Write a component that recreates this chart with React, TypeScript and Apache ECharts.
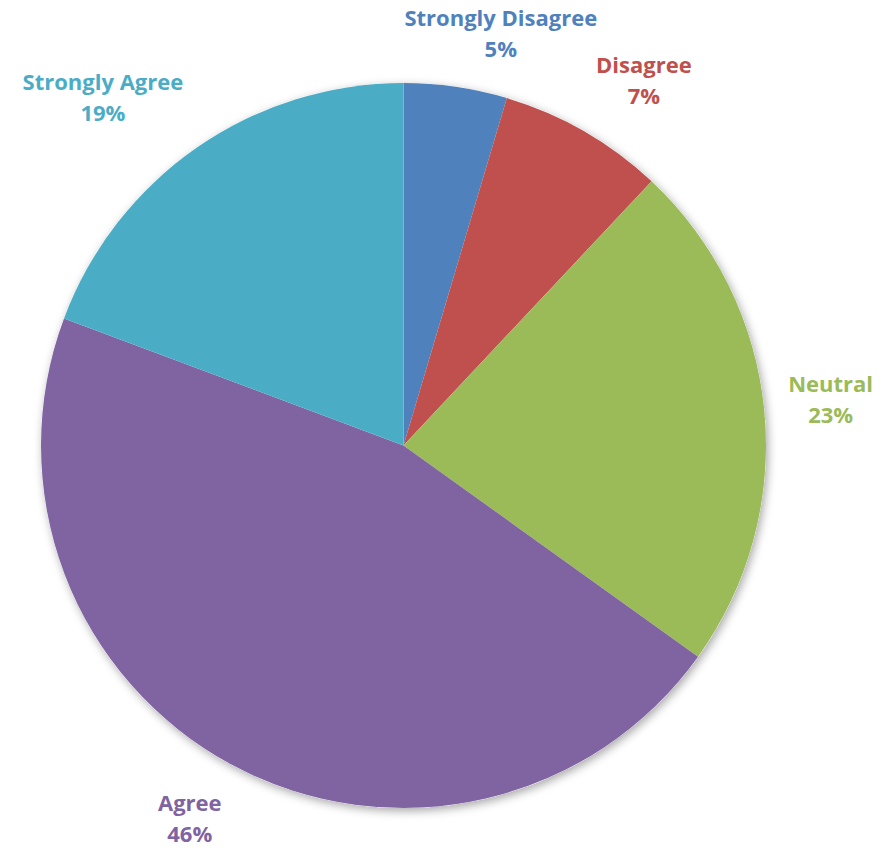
import React, { useEffect, useRef } from "react";
import * as echarts from "echarts";

const categories = ["Strongly Disagree", "Disagree", "Neutral", "Agree", "Strongly Agree"];
const values = [4.6, 7.4, 22.9, 45.8, 19.3];
const colors = ["#4F81BD", "#C0504D", "#9BBB59", "#8064A2", "#4BACC6"];

const CX = 403.5;
const CY = 445.5;
const R = 362.5;
const LABEL_DIST = R + 24;

export default function App() {
  const ref = useRef<HTMLDivElement>(null);
  useEffect(() => {
    if (!ref.current) return;
    const chart = echarts.init(ref.current, undefined, { renderer: "svg" });
    const total = values.reduce((a, b) => a + b, 0);
    const clamp = (v: number) => Math.max(-1, Math.min(1, v));
    chart.setOption({
      animation: false,
      backgroundColor: "#ffffff",
      series: [
        {
          type: "pie",
          z: 1,
          silent: true,
          center: [CX, CY],
          radius: R,
          label: { show: false },
          labelLine: { show: false },
          itemStyle: {
            color: "#ffffff",
            shadowBlur: 10,
            shadowColor: "rgba(0,0,0,0.35)",
            shadowOffsetX: 2,
            shadowOffsetY: 3,
          },
          data: [{ value: total, name: "" }],
        },
        {
          type: "pie",
          z: 2,
          center: [CX, CY],
          radius: R,
          startAngle: 90,
          clockwise: true,
          percentPrecision: 0,
          itemStyle: { borderWidth: 0 },
          labelLine: { show: false },
          label: {
            show: true,
            position: "outside",
            formatter: "{b}\n{d}%",
            fontFamily: "Open Sans",
            fontWeight: "bold",
            fontSize: 22,
            lineHeight: 31,
            align: "center",
            overflow: "none",
            edgeDistance: 0,
          },
          labelLayout: (params: any) => {
            const i = params.dataIndex;
            let before = 0;
            for (let j = 0; j < i; j++) before += values[j];
            const mid = ((before + values[i] / 2) / total) * Math.PI * 2;
            const s = Math.sin(mid);
            const c = Math.cos(mid);
            const w = params.labelRect.width;
            const h = params.labelRect.height;
            const k = 3;
            const ax = -clamp(k * s);
            const ay = clamp(k * c);
            const px = CX + LABEL_DIST * s;
            const py = CY - LABEL_DIST * c;
            return {
              x: px - (ax * w) / 2,
              y: py - (ay * h) / 2,
              align: "center",
              verticalAlign: "middle",
            };
          },
          data: categories.map((name, i) => ({
            name,
            value: values[i],
            itemStyle: { color: colors[i] },
            label: { color: colors[i] },
          })),
        },
      ],
    });
    return () => chart.dispose();
  }, []);
  return (
    <div
      ref={ref}
      style={{ position: "fixed", left: 0, top: 0, width: 882, height: 852 }}
    />
  );
}
